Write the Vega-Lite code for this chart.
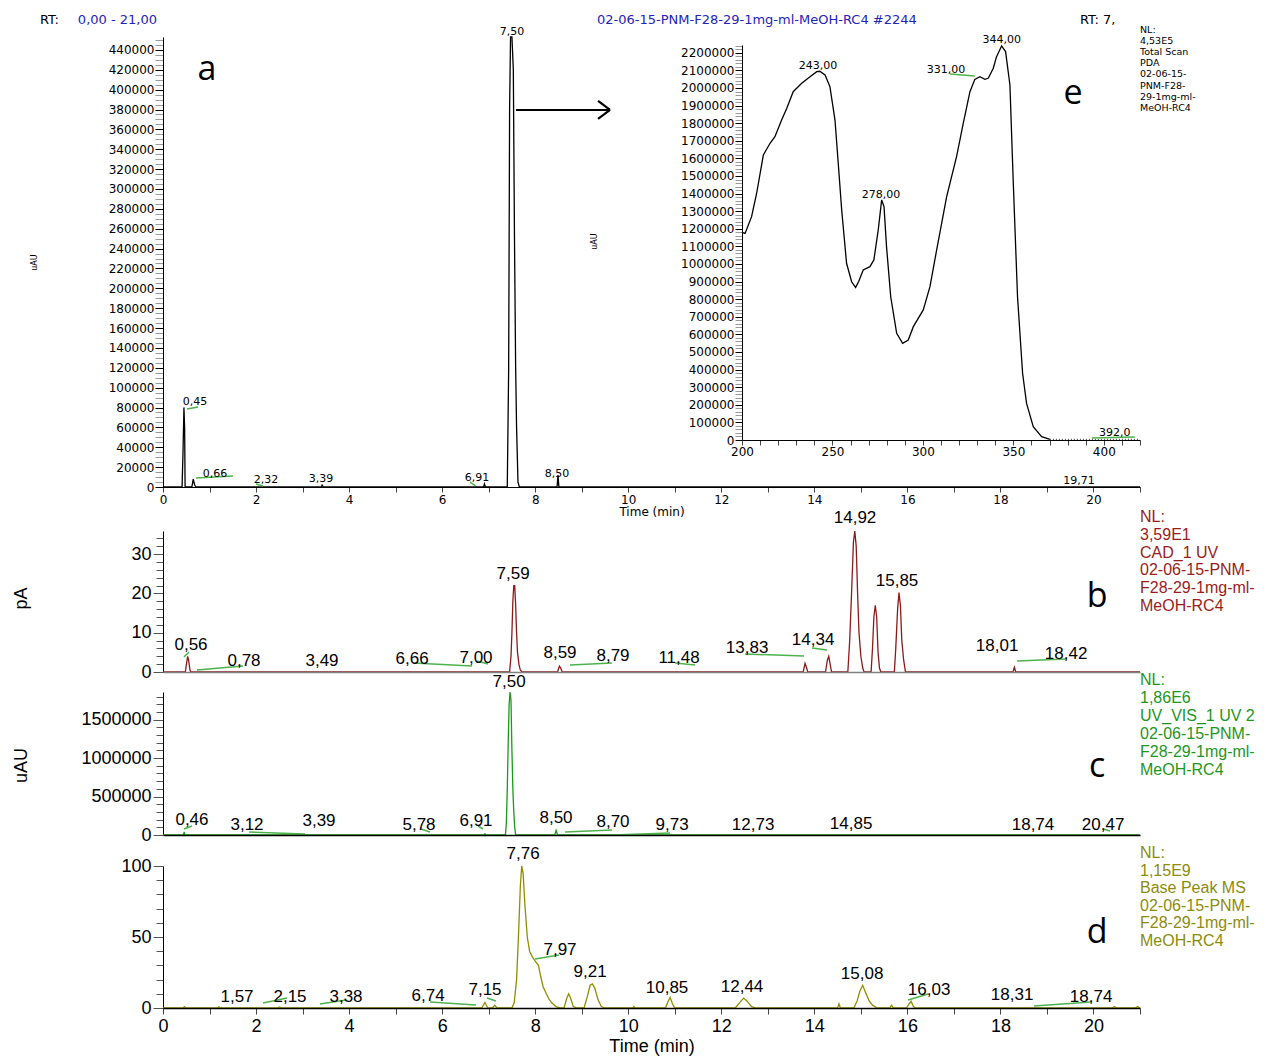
{
"$schema":"https://vega.github.io/schema/vega-lite/v6.json",
"width":977,"height":971,"autosize":"none",
"padding":{"left":163,"top":37,"right":148,"bottom":51},
"background":"white",
"config":{"view":{"stroke":null},"axis":{"grid":false,"domainColor":"black","tickColor":"#444","labelColor":"black","titleColor":"black","labelOverlap":false,"labelFlush":false,"titleFontWeight":"normal"}},
"datasets":{
"aLine":[{"t":0,"v":0},{"t":0.41,"v":0},{"t":0.43,"v":35000},{"t":0.45,"v":80000},{"t":0.465,"v":60000},{"t":0.475,"v":0},{"t":0.62,"v":0},{"t":0.65,"v":8000},{"t":0.68,"v":2000},{"t":0.71,"v":0},{"t":3.40,"v":0},{"t":3.42,"v":2000},{"t":3.45,"v":0},{"t":6.89,"v":0},{"t":6.91,"v":3000},{"t":6.93,"v":0},{"t":7.40,"v":0},{"t":7.43,"v":120000},{"t":7.45,"v":380000},{"t":7.47,"v":453000},{"t":7.50,"v":453000},{"t":7.53,"v":420000},{"t":7.555,"v":250000},{"t":7.58,"v":120000},{"t":7.60,"v":60000},{"t":7.63,"v":5000},{"t":7.66,"v":0},{"t":8.47,"v":0},{"t":8.49,"v":12000},{"t":8.51,"v":0},{"t":21,"v":0}],
"aLab":[{"lx":0.688,"ly":85570,"label":"0,45"},{"lx":1.118,"ly":13090,"label":"0,66"},{"lx":2.214,"ly":7050,"label":"2,32"},{"lx":3.396,"ly":8050,"label":"3,39"},{"lx":6.75,"ly":9060,"label":"6,91"},{"lx":7.502,"ly":458000,"label":"7,50"},{"lx":8.47,"ly":13090,"label":"8,50"},{"lx":19.69,"ly":6040,"label":"19,71"}],
"aLead":[{"x1":0.516,"x2":0.752,"y1":78500,"y2":80500},{"x1":0.709,"x2":1.505,"y1":9060,"y2":11070},{"x1":2.0,"x2":2.15,"y1":3000,"y2":1000},{"x1":6.6,"x2":6.72,"y1":5000,"y2":1000}],
"aArrow":[{"x1":7.588,"x2":9.609,"y1":379530,"y2":379530},{"x1":9.351,"x2":9.609,"y1":388590,"y2":379530},{"x1":9.351,"x2":9.609,"y1":370470,"y2":379530}],
"aHeadBlack":[{"lx":-2.644,"ly":470100,"label":"RT:"},{"lx":19.71,"ly":470100,"label":"RT: 7,"}],
"aHeadBlue":[{"lx":-1.83,"ly":470100,"label":"0,00 - 21,00"},{"lx":9.33,"ly":470100,"label":"02-06-15-PNM-F28-29-1mg-ml-MeOH-RC4 #2244"}],
"aInfo":[{"lx":21.0,"ly":465500,"label":"NL:\n4,53E5\nTotal Scan\nPDA\n02-06-15-\nPNM-F28-\n29-1mg-ml-\nMeOH-RC4"}],
"aLetters":[{"lx":0.946,"ly":419800,"label":"a"},{"lx":19.56,"ly":395600,"label":"e"}],
"eLine":[{"nm":200,"u":1180000},{"nm":201.7,"u":1174000},{"nm":205.3,"u":1269000},{"nm":208.1,"u":1402000},{"nm":211.8,"u":1619000},{"nm":215.5,"u":1686000},{"nm":218.2,"u":1723000},{"nm":221.9,"u":1818000},{"nm":224.7,"u":1884000},{"nm":228.3,"u":1979000},{"nm":233,"u":2027000},{"nm":237.6,"u":2064000},{"nm":241.3,"u":2093000},{"nm":243,"u":2095000},{"nm":245.9,"u":2074000},{"nm":248.6,"u":2008000},{"nm":251.4,"u":1818000},{"nm":253.2,"u":1572000},{"nm":255.1,"u":1307000},{"nm":257.8,"u":1004000},{"nm":260.6,"u":899000},{"nm":262.8,"u":867000},{"nm":264.5,"u":900000},{"nm":267,"u":966000},{"nm":270.7,"u":985000},{"nm":272.9,"u":1023000},{"nm":275.3,"u":1193000},{"nm":277.2,"u":1364000},{"nm":278.5,"u":1326000},{"nm":279.9,"u":1098000},{"nm":282.2,"u":814000},{"nm":285.5,"u":606000},{"nm":288.8,"u":549000},{"nm":291.9,"u":568000},{"nm":294.7,"u":644000},{"nm":300.2,"u":739000},{"nm":303.9,"u":871000},{"nm":307.6,"u":1080000},{"nm":313.1,"u":1382000},{"nm":318.6,"u":1610000},{"nm":322.3,"u":1799000},{"nm":326,"u":1979000},{"nm":328.7,"u":2049000},{"nm":331.5,"u":2064000},{"nm":334.3,"u":2049000},{"nm":336.1,"u":2055000},{"nm":338.9,"u":2112000},{"nm":340.7,"u":2178000},{"nm":343.5,"u":2239000},{"nm":345.7,"u":2207000},{"nm":348.1,"u":2017000},{"nm":349.9,"u":1477000},{"nm":352.3,"u":814000},{"nm":355.1,"u":379000},{"nm":357.3,"u":208000},{"nm":361,"u":76000},{"nm":365.6,"u":19000},{"nm":370.2,"u":4000}],
"eTail":[{"nm":370.2,"u":4000},{"nm":380,"u":3000},{"nm":390,"u":3500},{"nm":400,"u":3000},{"nm":410,"u":3000},{"nm":420,"u":3500}],
"eLab":[{"lx":242.0,"ly":2125000,"label":"243,00"},{"lx":276.8,"ly":1392000,"label":"278,00"},{"lx":312.7,"ly":2102000,"label":"331,00"},{"lx":343.6,"ly":2273000,"label":"344,00"},{"lx":406.1,"ly":39800,"label":"392,0"}],
"eLead":[{"x1":314.9,"x2":328.7,"y1":2080000,"y2":2068000},{"x1":393.4,"x2":417.1,"y1":11400,"y2":17000}],
"bLine":[{"t":0,"p":0},{"t":0.48,"p":0},{"t":0.51,"p":2.5},{"t":0.53,"p":4.0},{"t":0.55,"p":3.0},{"t":0.58,"p":0.5},{"t":0.60,"p":0},{"t":7.45,"p":0},{"t":7.48,"p":4},{"t":7.50,"p":10},{"t":7.52,"p":18},{"t":7.54,"p":22},{"t":7.56,"p":22},{"t":7.58,"p":17},{"t":7.60,"p":10},{"t":7.62,"p":5},{"t":7.65,"p":2},{"t":7.68,"p":0.5},{"t":7.72,"p":0},{"t":8.48,"p":0},{"t":8.52,"p":1.5},{"t":8.55,"p":1.0},{"t":8.58,"p":0},{"t":13.76,"p":0},{"t":13.80,"p":2.2},{"t":13.83,"p":1.2},{"t":13.86,"p":0},{"t":14.24,"p":0},{"t":14.28,"p":3},{"t":14.31,"p":4},{"t":14.34,"p":2},{"t":14.37,"p":0},{"t":14.72,"p":0},{"t":14.76,"p":8},{"t":14.80,"p":20},{"t":14.84,"p":33},{"t":14.87,"p":35.9},{"t":14.90,"p":32},{"t":14.93,"p":20},{"t":14.96,"p":10},{"t":15.00,"p":4},{"t":15.04,"p":1},{"t":15.07,"p":0},{"t":15.22,"p":0},{"t":15.25,"p":6},{"t":15.28,"p":14},{"t":15.31,"p":17},{"t":15.34,"p":14},{"t":15.37,"p":5},{"t":15.40,"p":1},{"t":15.43,"p":0},{"t":15.72,"p":0},{"t":15.75,"p":6},{"t":15.79,"p":16},{"t":15.82,"p":20.2},{"t":15.85,"p":17},{"t":15.88,"p":8},{"t":15.92,"p":3},{"t":15.96,"p":0},{"t":18.27,"p":0},{"t":18.30,"p":1.2},{"t":18.33,"p":0},{"t":21,"p":0}],
"bLab":[{"lx":0.602,"ly":6.87,"label":"0,56"},{"lx":1.741,"ly":2.8,"label":"0,78"},{"lx":3.418,"ly":2.8,"label":"3,49"},{"lx":5.353,"ly":3.31,"label":"6,66"},{"lx":6.728,"ly":3.56,"label":"7,00"},{"lx":7.524,"ly":24.95,"label":"7,59"},{"lx":8.534,"ly":4.84,"label":"8,59"},{"lx":9.673,"ly":4.07,"label":"8,79"},{"lx":11.092,"ly":3.56,"label":"11,48"},{"lx":12.554,"ly":6.11,"label":"13,83"},{"lx":13.973,"ly":8.15,"label":"14,34"},{"lx":14.875,"ly":39.2,"label":"14,92"},{"lx":15.778,"ly":23.17,"label":"15,85"},{"lx":17.928,"ly":6.62,"label":"18,01"},{"lx":19.411,"ly":4.58,"label":"18,42"}],
"bLead":[{"x1":0.451,"x2":0.559,"y1":3.82,"y2":5.09},{"x1":0.731,"x2":1.72,"y1":0.51,"y2":1.53},{"x1":5.374,"x2":6.642,"y1":2.29,"y2":1.53},{"x1":6.75,"x2":6.986,"y1":2.8,"y2":2.04},{"x1":8.749,"x2":9.652,"y1":1.78,"y2":2.29},{"x1":11.006,"x2":11.436,"y1":2.29,"y2":1.78},{"x1":12.511,"x2":13.779,"y1":4.58,"y2":4.07},{"x1":13.951,"x2":14.273,"y1":6.11,"y2":5.6},{"x1":18.358,"x2":19.411,"y1":2.8,"y2":3.31}],
"bInfo":[{"lx":21.0,"ly":41.5,"label":"NL:\n3,59E1\nCAD_1  UV\n02-06-15-PNM-\nF28-29-1mg-ml-\nMeOH-RC4"}],
"bLetter":[{"lx":20.08,"ly":19.1,"label":"b"}],
"cLine":[{"t":0,"c":0},{"t":0.44,"c":0},{"t":0.455,"c":40000},{"t":0.47,"c":0},{"t":6.90,"c":0},{"t":6.92,"c":15000},{"t":6.94,"c":0},{"t":7.36,"c":0},{"t":7.38,"c":150000},{"t":7.40,"c":600000},{"t":7.42,"c":1200000},{"t":7.44,"c":1700000},{"t":7.46,"c":1860000},{"t":7.48,"c":1750000},{"t":7.50,"c":1100000},{"t":7.52,"c":600000},{"t":7.54,"c":300000},{"t":7.56,"c":100000},{"t":7.58,"c":0},{"t":8.42,"c":0},{"t":8.45,"c":60000},{"t":8.48,"c":0},{"t":21,"c":0}],
"cLab":[{"lx":0.623,"ly":195100,"label":"0,46"},{"lx":1.806,"ly":130070,"label":"3,12"},{"lx":3.353,"ly":182100,"label":"3,39"},{"lx":5.503,"ly":130070,"label":"5,78"},{"lx":6.728,"ly":182100,"label":"6,91"},{"lx":7.438,"ly":1990000,"label":"7,50"},{"lx":8.448,"ly":221100,"label":"8,50"},{"lx":9.673,"ly":169100,"label":"8,70"},{"lx":10.942,"ly":130070,"label":"9,73"},{"lx":12.683,"ly":130070,"label":"12,73"},{"lx":14.79,"ly":143080,"label":"14,85"},{"lx":18.7,"ly":130070,"label":"18,74"},{"lx":20.206,"ly":130070,"label":"20,47"}],
"cLead":[{"x1":0.451,"x2":0.623,"y1":78000,"y2":117000},{"x1":1.849,"x2":3.052,"y1":39000,"y2":13000},{"x1":5.546,"x2":5.739,"y1":78000,"y2":39000},{"x1":6.771,"x2":6.879,"y1":117000,"y2":78000},{"x1":8.641,"x2":9.652,"y1":39000,"y2":65000},{"x1":9.652,"x2":10.899,"y1":0,"y2":26000},{"x1":20.206,"x2":20.357,"y1":78000,"y2":52000}],
"cInfo":[{"lx":21.0,"ly":2120000,"label":"NL:\n1,86E6\nUV_VIS_1  UV 2\n02-06-15-PNM-\nF28-29-1mg-ml-\nMeOH-RC4"}],
"cLetter":[{"lx":20.08,"ly":884500,"label":"c"}],
"dLine":[{"t":0,"r":0},{"t":0.43,"r":0},{"t":0.46,"r":1},{"t":0.49,"r":0},{"t":1.17,"r":0},{"t":1.2,"r":0.8},{"t":1.23,"r":0},{"t":2.45,"r":0},{"t":2.5,"r":0.7},{"t":2.55,"r":0},{"t":6.85,"r":0},{"t":6.92,"r":4},{"t":6.98,"r":0},{"t":7.08,"r":0},{"t":7.13,"r":2},{"t":7.18,"r":0},{"t":7.5,"r":0},{"t":7.55,"r":4},{"t":7.6,"r":20},{"t":7.64,"r":50},{"t":7.68,"r":85},{"t":7.71,"r":100},{"t":7.74,"r":95},{"t":7.78,"r":72},{"t":7.83,"r":50},{"t":7.88,"r":40},{"t":7.94,"r":36},{"t":8.0,"r":33},{"t":8.07,"r":30},{"t":8.12,"r":22},{"t":8.17,"r":15},{"t":8.24,"r":10},{"t":8.3,"r":6},{"t":8.36,"r":3.5},{"t":8.45,"r":1},{"t":8.55,"r":0},{"t":8.62,"r":0},{"t":8.68,"r":7},{"t":8.72,"r":10},{"t":8.76,"r":7},{"t":8.82,"r":1},{"t":8.9,"r":0},{"t":9.05,"r":0},{"t":9.12,"r":8},{"t":9.18,"r":16},{"t":9.23,"r":17},{"t":9.28,"r":14},{"t":9.35,"r":6},{"t":9.42,"r":1},{"t":9.5,"r":0},{"t":10.1,"r":0},{"t":10.12,"r":1},{"t":10.15,"r":0},{"t":10.8,"r":0},{"t":10.86,"r":5},{"t":10.9,"r":7.5},{"t":10.95,"r":3},{"t":11.0,"r":0},{"t":12.3,"r":0},{"t":12.4,"r":4},{"t":12.48,"r":7},{"t":12.55,"r":5},{"t":12.65,"r":1},{"t":12.75,"r":0},{"t":14.5,"r":0},{"t":14.53,"r":3},{"t":14.56,"r":0},{"t":14.85,"r":0},{"t":14.92,"r":5},{"t":14.98,"r":12},{"t":15.04,"r":16},{"t":15.1,"r":11},{"t":15.18,"r":5},{"t":15.25,"r":2},{"t":15.35,"r":0},{"t":15.62,"r":0},{"t":15.66,"r":2},{"t":15.7,"r":0},{"t":15.98,"r":0},{"t":16.04,"r":3},{"t":16.08,"r":4.7},{"t":16.13,"r":1},{"t":16.18,"r":0},{"t":20.4,"r":0},{"t":20.45,"r":1},{"t":20.5,"r":0},{"t":20.9,"r":0},{"t":20.95,"r":1},{"t":21,"r":0}],
"dLab":[{"lx":7.739,"ly":108.5,"label":"7,76"},{"lx":8.534,"ly":40.8,"label":"7,97"},{"lx":9.179,"ly":25.4,"label":"9,21"},{"lx":1.591,"ly":7.7,"label":"1,57"},{"lx":2.73,"ly":7.7,"label":"2,15"},{"lx":3.934,"ly":7.7,"label":"3,38"},{"lx":5.697,"ly":8.5,"label":"6,74"},{"lx":6.922,"ly":12.7,"label":"7,15"},{"lx":10.834,"ly":14.1,"label":"10,85"},{"lx":12.446,"ly":14.8,"label":"12,44"},{"lx":15.026,"ly":23.9,"label":"15,08"},{"lx":16.466,"ly":12.7,"label":"16,03"},{"lx":18.25,"ly":9.2,"label":"18,31"},{"lx":19.948,"ly":7.7,"label":"18,74"}],
"dLead":[{"x1":2.15,"x2":2.666,"y1":3.5,"y2":7.0},{"x1":3.375,"x2":3.934,"y1":2.8,"y2":5.6},{"x1":5.739,"x2":6.728,"y1":4.2,"y2":2.1},{"x1":6.965,"x2":7.158,"y1":7.0,"y2":4.9},{"x1":7.997,"x2":8.512,"y1":34.5,"y2":37.3},{"x1":16.015,"x2":16.445,"y1":5.6,"y2":9.9},{"x1":18.723,"x2":19.948,"y1":1.4,"y2":4.2}],
"dInfo":[{"lx":21.0,"ly":114.8,"label":"NL:\n1,15E9\nBase Peak  MS\n02-06-15-PNM-\nF28-29-1mg-ml-\nMeOH-RC4"}],
"dLetter":[{"lx":20.08,"ly":52.8,"label":"d"}]
},
"resolve":{"scale":{"x":"independent","y":"independent"},"axis":{"x":"independent","y":"independent"}},
"layer":[
{"layer":[
 {"data":{"name":"aLine"},"mark":{"type":"line","color":"black","strokeWidth":1.3},
  "encoding":{
   "x":{"field":"t","type":"quantitative","scale":{"domain":[0,21],"range":[0,977],"nice":false,"zero":false},
     "axis":{"orient":"bottom","offset":-521,"tickCount":42,"format":"d","labelExpr":"datum.value % 2 === 0 ? datum.label : ''","tickSize":5,"labelFont":"DejaVu Sans","labelFontSize":12,"labelPadding":2,"title":"Time (min)","titleFont":"DejaVu Sans","titleFontSize":12,"titlePadding":1}},
   "y":{"field":"v","type":"quantitative","scale":{"domain":[0,453000],"range":[450,0],"nice":false,"zero":false},
     "axis":{"orient":"left","tickCount":91,"format":"d","labelExpr":"datum.value % 20000 === 0 ? datum.label : ''","tickSize":8,"tickColor":{"condition":{"test":"datum.value % 20000 === 0","value":"black"},"value":"#9a9a9a"},"labelFont":"DejaVu Sans","labelFontSize":12,"labelPadding":1,"title":"uAU","titleFont":"DejaVu Sans","titleFontSize":8,"titleX":-125,"titleY":225}}}},
 {"data":{"name":"aLead"},"mark":{"type":"rule","color":"#4cb34c","strokeWidth":1.5},"encoding":{"x":{"field":"x1","type":"quantitative"},"x2":{"field":"x2"},"y":{"field":"y1","type":"quantitative"},"y2":{"field":"y2"}}},
 {"data":{"name":"aArrow"},"mark":{"type":"rule","color":"black","strokeWidth":2.2},"encoding":{"x":{"field":"x1","type":"quantitative"},"x2":{"field":"x2"},"y":{"field":"y1","type":"quantitative"},"y2":{"field":"y2"}}},
 {"data":{"name":"aLab"},"mark":{"type":"text","font":"DejaVu Sans","fontSize":11,"color":"black","align":"center","baseline":"middle"},"encoding":{"x":{"field":"lx","type":"quantitative"},"y":{"field":"ly","type":"quantitative"},"text":{"field":"label"}}},
 {"data":{"name":"aHeadBlack"},"mark":{"type":"text","font":"DejaVu Sans","fontSize":13,"color":"black","align":"left","baseline":"middle"},"encoding":{"x":{"field":"lx","type":"quantitative"},"y":{"field":"ly","type":"quantitative"},"text":{"field":"label"}}},
 {"data":{"name":"aHeadBlue"},"mark":{"type":"text","font":"DejaVu Sans","fontSize":13,"color":"#2424b8","align":"left","baseline":"middle"},"encoding":{"x":{"field":"lx","type":"quantitative"},"y":{"field":"ly","type":"quantitative"},"text":{"field":"label"}}},
 {"data":{"name":"aInfo"},"mark":{"type":"text","font":"DejaVu Sans","fontSize":9.5,"color":"black","align":"left","baseline":"top","lineBreak":"\n","lineHeight":11.2},"encoding":{"x":{"field":"lx","type":"quantitative"},"y":{"field":"ly","type":"quantitative"},"text":{"field":"label"}}},
 {"data":{"name":"aLetters"},"mark":{"type":"text","font":"Liberation Sans Narrow, Open Sans","fontSize":34,"color":"black","align":"center","baseline":"middle"},"encoding":{"x":{"field":"lx","type":"quantitative"},"y":{"field":"ly","type":"quantitative"},"text":{"field":"label"}}}
]},
{"layer":[
 {"data":{"name":"eLine"},"mark":{"type":"line","color":"black","strokeWidth":1.3},
  "encoding":{
   "x":{"field":"nm","type":"quantitative","scale":{"domain":[200,420],"range":[579,977],"nice":false,"zero":false},
     "axis":{"orient":"bottom","offset":-568,"tickCount":22,"format":"d","labelExpr":"datum.value % 50 === 0 ? datum.label : ''","tickSize":5,"labelFont":"DejaVu Sans","labelFontSize":12,"labelPadding":1,"title":null}},
   "y":{"field":"u","type":"quantitative","scale":{"domain":[0,2244300],"range":[403,8],"nice":false,"zero":false},
     "axis":{"orient":"left","offset":-579,"tickCount":112,"format":"d","labelExpr":"datum.value % 100000 === 0 ? datum.label : ''","tickSize":7,"tickColor":{"condition":{"test":"datum.value % 100000 === 0","value":"black"},"value":"#9a9a9a"},"labelFont":"DejaVu Sans","labelFontSize":12,"labelPadding":1,"title":"uAU","titleFont":"DejaVu Sans","titleFontSize":8,"titleX":-144,"titleY":204}}}},
 {"data":{"name":"eTail"},"mark":{"type":"line","color":"#555","strokeWidth":1.2,"strokeDash":[1,2]},"encoding":{"x":{"field":"nm","type":"quantitative"},"y":{"field":"u","type":"quantitative"}}},
 {"data":{"name":"eLead"},"mark":{"type":"rule","color":"#4cb34c","strokeWidth":1.5},"encoding":{"x":{"field":"x1","type":"quantitative"},"x2":{"field":"x2"},"y":{"field":"y1","type":"quantitative"},"y2":{"field":"y2"}}},
 {"data":{"name":"eLab"},"mark":{"type":"text","font":"DejaVu Sans","fontSize":11,"color":"black","align":"center","baseline":"middle"},"encoding":{"x":{"field":"lx","type":"quantitative"},"y":{"field":"ly","type":"quantitative"},"text":{"field":"label"}}}
]},
{"layer":[
 {"data":{"name":"bLine"},"mark":{"type":"line","color":"#8b1a1a","strokeWidth":1.3},
  "encoding":{
   "x":{"field":"t","type":"quantitative","scale":{"domain":[0,21],"range":[0,977],"nice":false,"zero":false},
     "axis":{"orient":"bottom","offset":-336,"labels":false,"ticks":false,"title":null,"domainColor":"#808080","domainWidth":1.5,"zindex":1}},
   "y":{"field":"p","type":"quantitative","scale":{"domain":[0,35.9],"range":[635,494],"nice":false,"zero":false},
     "axis":{"orient":"left","tickCount":18,"format":"d","labelExpr":"datum.value % 10 === 0 ? datum.label : ''","tickSize":{"condition":{"test":"datum.value % 10 === 0","value":10},"value":7},"tickColor":"#555","labelFont":"Liberation Sans","labelFontSize":18,"labelPadding":2,"title":"pA","titleFont":"Liberation Sans","titleFontSize":18,"titleX":-133,"titleY":561}}}},
 {"data":{"name":"bLead"},"mark":{"type":"rule","color":"#4cb34c","strokeWidth":1.5},"encoding":{"x":{"field":"x1","type":"quantitative"},"x2":{"field":"x2"},"y":{"field":"y1","type":"quantitative"},"y2":{"field":"y2"}}},
 {"data":{"name":"bLab"},"mark":{"type":"text","font":"Liberation Sans","fontSize":17,"color":"black","align":"center","baseline":"middle"},"encoding":{"x":{"field":"lx","type":"quantitative"},"y":{"field":"ly","type":"quantitative"},"text":{"field":"label"}}},
 {"data":{"name":"bInfo"},"mark":{"type":"text","font":"Liberation Sans","fontSize":16,"color":"#9b1c1c","align":"left","baseline":"top","lineBreak":"\n","lineHeight":17.8},"encoding":{"x":{"field":"lx","type":"quantitative"},"y":{"field":"ly","type":"quantitative"},"text":{"field":"label"}}},
 {"data":{"name":"bLetter"},"mark":{"type":"text","font":"Liberation Sans Narrow, Open Sans","fontSize":34,"color":"black","align":"center","baseline":"middle"},"encoding":{"x":{"field":"lx","type":"quantitative"},"y":{"field":"ly","type":"quantitative"},"text":{"field":"label"}}}
]},
{"layer":[
 {"data":{"name":"cLine"},"mark":{"type":"line","color":"#1a9a1a","strokeWidth":1.3},
  "encoding":{
   "x":{"field":"t","type":"quantitative","scale":{"domain":[0,21],"range":[0,977],"nice":false,"zero":false},
     "axis":{"orient":"bottom","offset":-173,"labels":false,"ticks":false,"title":null,"domainColor":"black","domainWidth":1.5,"zindex":1}},
   "y":{"field":"c","type":"quantitative","scale":{"domain":[0,1860000],"range":[798,655],"nice":false,"zero":false},
     "axis":{"orient":"left","tickCount":19,"format":"d","labelExpr":"datum.value % 500000 === 0 ? datum.label : ''","tickSize":{"condition":{"test":"datum.value % 500000 === 0","value":10},"value":7},"tickColor":"#555","labelFont":"Liberation Sans","labelFontSize":18,"labelPadding":2,"title":"uAU","titleFont":"Liberation Sans","titleFontSize":18,"titleX":-133,"titleY":728}}}},
 {"data":{"name":"cLead"},"mark":{"type":"rule","color":"#4cb34c","strokeWidth":1.5},"encoding":{"x":{"field":"x1","type":"quantitative"},"x2":{"field":"x2"},"y":{"field":"y1","type":"quantitative"},"y2":{"field":"y2"}}},
 {"data":{"name":"cLab"},"mark":{"type":"text","font":"Liberation Sans","fontSize":17,"color":"black","align":"center","baseline":"middle"},"encoding":{"x":{"field":"lx","type":"quantitative"},"y":{"field":"ly","type":"quantitative"},"text":{"field":"label"}}},
 {"data":{"name":"cInfo"},"mark":{"type":"text","font":"Liberation Sans","fontSize":16,"color":"#1e961e","align":"left","baseline":"top","lineBreak":"\n","lineHeight":17.9},"encoding":{"x":{"field":"lx","type":"quantitative"},"y":{"field":"ly","type":"quantitative"},"text":{"field":"label"}}},
 {"data":{"name":"cLetter"},"mark":{"type":"text","font":"Liberation Sans Narrow, Open Sans","fontSize":34,"color":"black","align":"center","baseline":"middle"},"encoding":{"x":{"field":"lx","type":"quantitative"},"y":{"field":"ly","type":"quantitative"},"text":{"field":"label"}}}
]},
{"layer":[
 {"data":{"name":"dLine"},"mark":{"type":"line","color":"#8f8f00","strokeWidth":1.3},
  "encoding":{
   "x":{"field":"t","type":"quantitative","scale":{"domain":[0,21],"range":[0,977],"nice":false,"zero":false},
     "axis":{"orient":"bottom","offset":0,"tickCount":42,"format":"d","labelExpr":"datum.value % 2 === 0 ? datum.label : ''","tickSize":6,"domainWidth":1.5,"zindex":1,"labelFont":"Liberation Sans Narrow, Liberation Sans","labelFontSize":18,"labelPadding":3,"title":"Time (min)","titleFont":"Liberation Sans Narrow, Liberation Sans","titleFontSize":18,"titlePadding":2}},
   "y":{"field":"r","type":"quantitative","scale":{"domain":[0,100],"range":[971,829],"nice":false,"zero":false},
     "axis":{"orient":"left","tickCount":10,"format":"d","labelExpr":"datum.value % 50 === 0 ? datum.label : ''","tickSize":{"condition":{"test":"datum.value % 50 === 0","value":10},"value":7},"tickColor":"#555","labelFont":"Liberation Sans Narrow, Liberation Sans","labelFontSize":18,"labelPadding":2,"title":null}}}},
 {"data":{"name":"dLead"},"mark":{"type":"rule","color":"#4cb34c","strokeWidth":1.5},"encoding":{"x":{"field":"x1","type":"quantitative"},"x2":{"field":"x2"},"y":{"field":"y1","type":"quantitative"},"y2":{"field":"y2"}}},
 {"data":{"name":"dLab"},"mark":{"type":"text","font":"Liberation Sans Narrow, Liberation Sans","fontSize":17,"color":"black","align":"center","baseline":"middle"},"encoding":{"x":{"field":"lx","type":"quantitative"},"y":{"field":"ly","type":"quantitative"},"text":{"field":"label"}}},
 {"data":{"name":"dInfo"},"mark":{"type":"text","font":"Liberation Sans","fontSize":16,"color":"#8c8c0c","align":"left","baseline":"top","lineBreak":"\n","lineHeight":17.6},"encoding":{"x":{"field":"lx","type":"quantitative"},"y":{"field":"ly","type":"quantitative"},"text":{"field":"label"}}},
 {"data":{"name":"dLetter"},"mark":{"type":"text","font":"Liberation Sans Narrow, Open Sans","fontSize":34,"color":"black","align":"center","baseline":"middle"},"encoding":{"x":{"field":"lx","type":"quantitative"},"y":{"field":"ly","type":"quantitative"},"text":{"field":"label"}}}
]}
]
}
